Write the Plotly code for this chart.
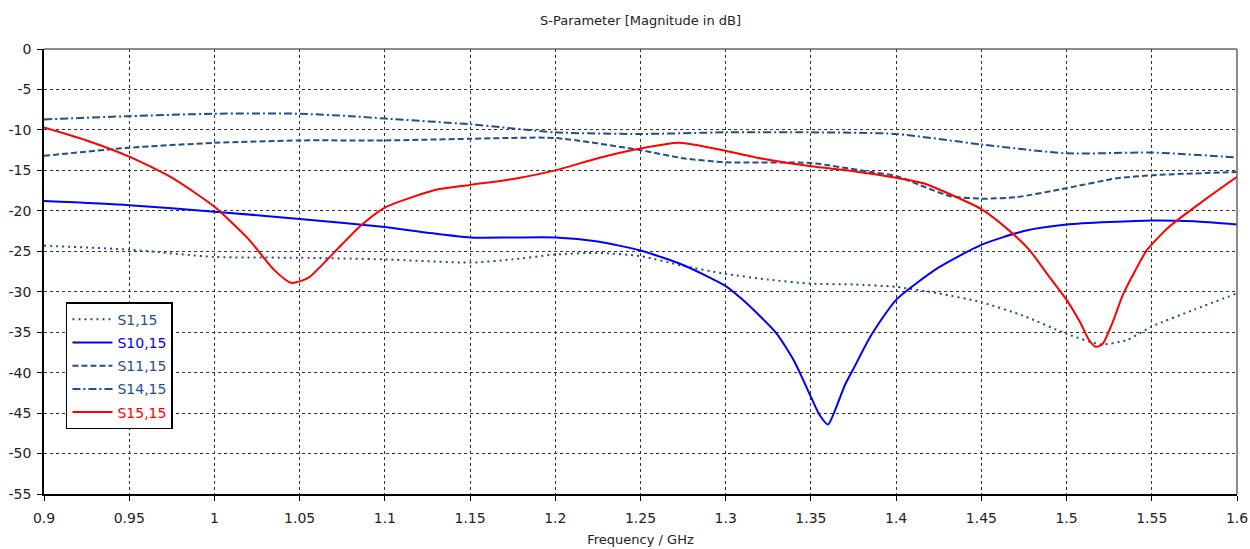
import plotly.graph_objects as go

freq_s1 = [0.9, 0.95, 1.0, 1.05, 1.1, 1.15, 1.175, 1.2, 1.225, 1.25, 1.275, 1.3, 1.325, 1.35, 1.375, 1.4,
           1.425, 1.45, 1.475, 1.5, 1.52, 1.535, 1.55, 1.575, 1.6]
s1_15 = [-24.3, -24.8, -25.7, -25.8, -26.0, -26.4, -26.0, -25.4, -25.2, -25.6, -26.8, -27.8, -28.5, -29.0, -29.1, -29.4,
         -30.2, -31.3, -33.0, -35.2, -36.5, -36.0, -34.3, -32.2, -30.2]

freq_s10 = [0.9, 0.95, 1.0, 1.05, 1.1, 1.125, 1.15, 1.175, 1.2, 1.225, 1.25, 1.275, 1.3, 1.31, 1.32, 1.33, 1.34,
            1.35, 1.355, 1.36, 1.365, 1.37, 1.375, 1.385, 1.4, 1.425, 1.45, 1.475, 1.5, 1.55, 1.575, 1.6]
s10_15 = [-18.8, -19.3, -20.1, -21.0, -22.0, -22.7, -23.3, -23.3, -23.3, -23.8, -24.9, -26.7, -29.3, -31.0, -33.0, -35.2, -38.5,
          -43.0, -45.2, -46.4, -44.2, -41.5, -39.5, -35.5, -31.0, -27.0, -24.2, -22.5, -21.7, -21.2, -21.3, -21.7]

freq_s11 = [0.9, 0.95, 1.0, 1.05, 1.1, 1.15, 1.2, 1.25, 1.275, 1.3, 1.35, 1.385, 1.4, 1.416, 1.432, 1.451, 1.471,
            1.5, 1.529, 1.55, 1.6]
s11_15 = [-13.2, -12.2, -11.6, -11.3, -11.3, -11.1, -11.0, -12.5, -13.5, -14.0, -14.1, -15.2, -15.7, -17.0, -18.2, -18.5, -18.3,
          -17.2, -16.0, -15.6, -15.2]

freq_s14 = [0.9, 0.95, 1.0, 1.05, 1.08, 1.1, 1.15, 1.2, 1.25, 1.3, 1.35, 1.4, 1.45, 1.5, 1.55, 1.6]
s14_15 = [-8.7, -8.3, -8.0, -8.0, -8.3, -8.6, -9.3, -10.3, -10.5, -10.3, -10.3, -10.5, -11.8, -12.9, -12.8, -13.4]

freq_s15 = [0.9, 0.925, 0.95, 0.975, 1.0, 1.02, 1.035, 1.045, 1.055, 1.07, 1.085, 1.1, 1.13, 1.15, 1.177, 1.2,
            1.225, 1.25, 1.273, 1.3, 1.325, 1.35, 1.375, 1.4, 1.416, 1.43, 1.45, 1.465, 1.478, 1.49, 1.5, 1.508,
            1.513, 1.517, 1.521, 1.527, 1.533, 1.54, 1.547, 1.56, 1.58, 1.6]
s15_15 = [-9.7, -11.3, -13.3, -15.9, -19.5, -23.5, -27.3, -28.9, -28.3, -25.2, -22.0, -19.6, -17.4, -16.8, -16.0, -15.0,
          -13.5, -12.3, -11.6, -12.6, -13.7, -14.5, -15.1, -15.9, -16.6, -17.8, -19.8, -22.2, -24.8, -28.2, -31.0, -33.8,
          -35.9, -36.8, -36.5, -33.8, -30.4, -27.5, -24.9, -22.0, -18.8, -15.8]

names = ["S1,15", "S10,15", "S11,15", "S14,15", "S15,15"]
DARK = "#1f4f8a"
colors = [DARK, "#0000ff", DARK, DARK, "#ff0000"]
dashes = ["2px,4px", "solid", "6px,3px", "8px,3px,2px,3px", "solid"]
xs = [freq_s1, freq_s10, freq_s11, freq_s14, freq_s15]
ys = [s1_15, s10_15, s11_15, s14_15, s15_15]

xticks = [0.9, 0.95, 1.0, 1.05, 1.1, 1.15, 1.2, 1.25, 1.3, 1.35, 1.4, 1.45, 1.5, 1.55, 1.6]
xticklabels = ["0.9", "0.95", "1", "1.05", "1.1", "1.15", "1.2", "1.25", "1.3", "1.35", "1.4", "1.45", "1.5", "1.55", "1.6"]
yticks = [0, -5, -10, -15, -20, -25, -30, -35, -40, -45, -50, -55]
yticklabels = ["0", "-5", "-10", "-15", "-20", "-25", "-30", "-35", "-40", "-45", "-50", "-55"]

FONT = "Tahoma, DejaVu Sans, sans-serif"
TXT = "#222222"

fig = go.Figure()
for i, (n, c, d, x, y) in enumerate(zip(names, colors, dashes, xs, ys)):
    fig.add_trace(go.Scatter(
        x=x, y=y, mode="lines",
        name=f"<span style='color:{c}'>{n}</span>",
        legendgroup=f"g{i}",
        line=dict(color=c, width=2, dash=d, shape="spline", smoothing=0.6),
    ))

axis_common = dict(
    showgrid=True, gridcolor="#333333", griddash="3px,3px", gridwidth=1,
    showline=True, linecolor="black", linewidth=1.5, mirror=False,
    ticks="outside", ticklen=5, tickcolor="black",
    zeroline=False, automargin=False,
    tickfont=dict(family=FONT, size=14, color=TXT),
)

fig.update_layout(
    width=1250, height=549,
    margin=dict(l=44, r=13, t=49, b=55),
    paper_bgcolor="white", plot_bgcolor="white",
    title=dict(text="S-Parameter [Magnitude in dB]", x=(44 + 1237) / 2 / 1250, xanchor="center",
               y=1 - 20 / 549, yanchor="middle", font=dict(family=FONT, size=13, color=TXT)),
    xaxis=dict(range=[0.9, 1.6], tickvals=xticks, ticktext=xticklabels, ticklabelstandoff=5,
               title=dict(text="Frequency / GHz", font=dict(family=FONT, size=13, color=TXT), standoff=10),
               **axis_common),
    yaxis=dict(range=[-55, 0], tickvals=yticks, ticktext=yticklabels, ticklabelstandoff=3, **axis_common),
    legend=dict(x=0.0184, y=0.431, xanchor="left", yanchor="top",
                bgcolor="white", bordercolor="black", borderwidth=1.5,
                font=dict(family=FONT, size=14), tracegroupgap=2, itemwidth=40),
    showlegend=True,
)
# grey frame on top and right
fig.add_shape(type="line", xref="paper", yref="paper", x0=0, x1=1, y0=1, y1=1,
              line=dict(color="#666666", width=1.5))
fig.add_shape(type="line", xref="paper", yref="paper", x0=1, x1=1, y0=0, y1=1,
              line=dict(color="#666666", width=1.5))

fig.write_html("out.html")
